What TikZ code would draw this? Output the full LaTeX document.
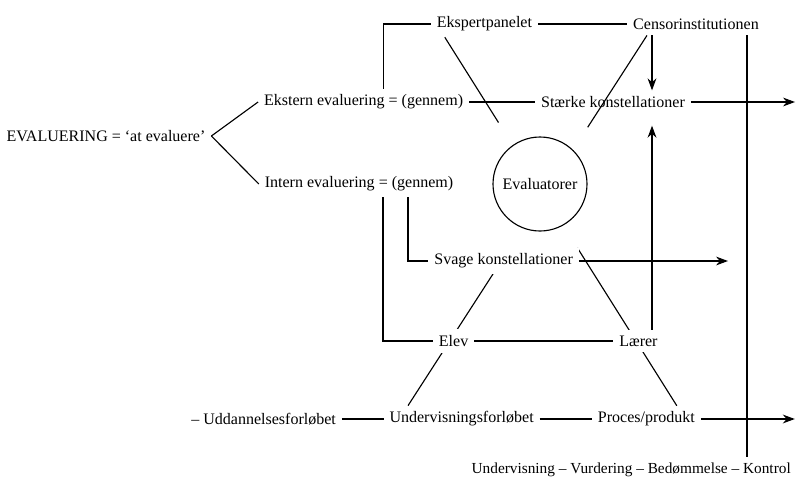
\documentclass[tikz,border=0pt]{standalone}
\usepackage{fontspec}
\setmainfont{Liberation Serif}
\usetikzlibrary{positioning,arrows.meta,backgrounds}

\begin{document}
\begin{tikzpicture}
[every node/.style={inner sep=1.5mm,outer sep=0mm,font=\fontsize{11.4}{13}\selectfont},
 hide/.style={fill=white},
 ring/.style={circle,draw,minimum size=23.5mm,inner sep=0mm},
 arr/.style={-{Stealth[length=3mm,width=2.2mm]}},
 thick]
\useasboundingbox (0,0) rectangle (199mm,-119.5mm);

\node (eval) at (26.5mm,-34mm) {EVALUERING = `at evaluere'};
\node (ekst)    [on grid,above right=8.5mm and 64.4mm of eval]   {Ekstern evaluering = (gennem)};
\node (intern)  [on grid,below right=12mm and 63.25mm of eval]   {Intern evaluering = (gennem)};
\node (ekspert) [on grid,above right=19.5mm and 30.2mm of ekst]  {Ekspertpanelet};
\node (censor)  [on grid,right=52.9mm of ekspert]                {Censorinstitutionen};
\node (staerke) [on grid,right=62.35mm of ekst]                  {Stærke konstellationer};
\node[ring] (evalr) [on grid,right=45.25mm of intern]            {Evaluatorer};
\node[hide] (svage) [on grid,below right=19.25mm and 36.15mm of intern] {Svage konstellationer};
\node[hide] (elev)  [on grid,below left=20mm and 12.5mm of svage] {Elev};
\node[hide] (laerer) [on grid,right=46.2mm of elev]              {Lærer};
\node (underv)  [on grid,below right=19.5mm and 2mm of elev]     {Undervisningsforløbet};
\node (proces)  [on grid,right=46.2mm of underv]                 {Proces/produkt};
\node (uddan)   [on grid,left=49.5mm of underv]                  {-- Uddannelsesforløbet};
\node[font=\fontsize{10.9}{13}\selectfont] (bottom) [on grid,below right=12.75mm and 42.4mm of underv] {Undervisning -- Vurdering -- Bedømmelse -- Kontrol};

\coordinate (sEnd)  at ([xshift=45.5mm]staerke.center);
\coordinate (svEnd) at ([xshift=56.1mm]svage.center);
\coordinate (pEnd)  at ([xshift=37.1mm]proces.center);
\coordinate (cD)    at ([xshift=-11mm]censor.south);
\coordinate (vTop)  at ([xshift=12.75mm]censor.south);
\coordinate (kTop)  at ([xshift=-9.9mm]ekspert.south);
\coordinate (pTop)  at ([xshift=7.6mm]proces.north);
\coordinate (cTop)  at ([xshift=-12.25mm]censor.south);
\coordinate (uTop)  at ([xshift=-13.4mm]underv.north);

% the two diagonals run under the circle and the white labels
\begin{scope}[on background layer]
\draw[thick] (kTop) -- (pTop);
\draw[thick] (cTop) -- (uTop);
\fill[white] (evalr.center) circle (18.5mm);
\end{scope}

\draw (eval.east) -- (ekst.west);
\draw (eval.east) -- (intern.west);
\draw ([xshift=4.9mm]ekst.north) |- (ekspert.west);
\draw (ekspert) -- (censor);
\draw (ekst) -- (staerke);
\draw[arr] (staerke) -- (sEnd);
\draw[arr] (cD) -- (cD |- staerke.north);
\draw (vTop) -- (vTop |- bottom.north);
\draw ([xshift=6mm]intern.south) |- (elev.west);
\draw ([xshift=12.25mm]intern.south) |- (svage.west);
\draw[arr] (svage) -- (svEnd);
\draw (elev) -- (laerer);
\draw[arr] (cD |- laerer.north) -- ++(0,51mm);
\draw (uddan) -- (underv);
\draw (underv) -- (proces);
\draw[arr] (proces) -- (pEnd);
\end{tikzpicture}
\end{document}
